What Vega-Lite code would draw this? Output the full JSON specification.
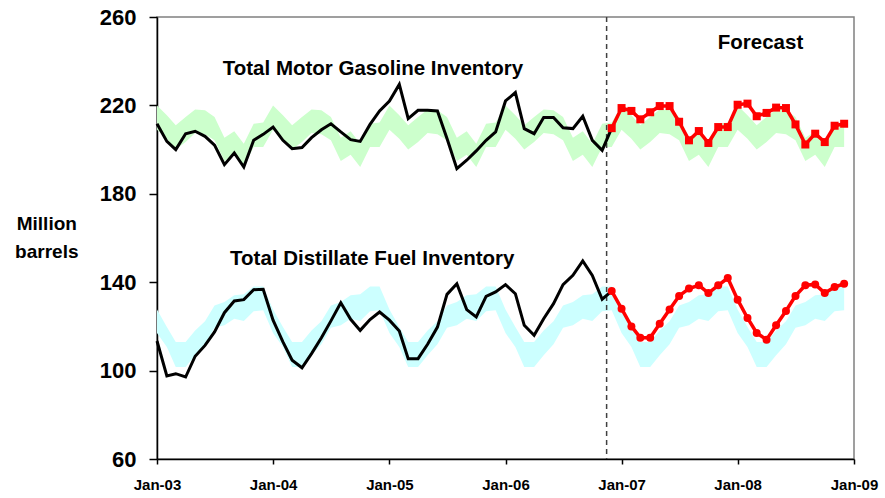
{
  "$schema": "https://vega.github.io/schema/vega-lite/v6.json",
  "width": 697,
  "height": 442,
  "autosize": {"type": "none"},
  "padding": {"left": 157, "top": 17, "right": 31, "bottom": 39},
  "background": "white",
  "config": {
    "font": "Liberation Sans",
    "view": {"stroke": "#808080", "strokeWidth": 1.5},
    "axis": {"grid": false, "domainColor": "black", "domainWidth": 1.5, "tickColor": "black", "tickWidth": 1.5, "labelColor": "black", "labelFont": "Liberation Sans", "labelFontWeight": "bold"}
  },
  "datasets": {
    "band": [
      {"d":"2003-01","glo":209.0,"ghi":220.0,"dlo":117.0,"dhi":127.6},{"d":"2003-02","glo":204.9,"ghi":215.5,"dlo":110.7,"dhi":119.7},{"d":"2003-03","glo":200.0,"ghi":211.0,"dlo":101.6,"dhi":112.9},{"d":"2003-04","glo":203.4,"ghi":214.8,"dlo":101.6,"dhi":112.9},{"d":"2003-05","glo":207.5,"ghi":218.2,"dlo":106.9,"dhi":118.2},{"d":"2003-06","glo":206.9,"ghi":217.8,"dlo":111.9,"dhi":122.3},{"d":"2003-07","glo":204.2,"ghi":214.8,"dlo":119.4,"dhi":129.5},{"d":"2003-08","glo":194.8,"ghi":205.4,"dlo":120.5,"dhi":131.0},{"d":"2003-09","glo":197.7,"ghi":208.3,"dlo":123.5,"dhi":134.1},{"d":"2003-10","glo":192.1,"ghi":202.7,"dlo":122.5,"dhi":134.5},{"d":"2003-11","glo":201.2,"ghi":211.7,"dlo":126.8,"dhi":138.1},{"d":"2003-12","glo":201.2,"ghi":212.3,"dlo":127.3,"dhi":138.1},
      {"d":"2004-01","glo":209.0,"ghi":220.0,"dlo":117.0,"dhi":127.6},{"d":"2004-02","glo":204.9,"ghi":215.5,"dlo":110.7,"dhi":119.7},{"d":"2004-03","glo":200.0,"ghi":211.0,"dlo":101.6,"dhi":112.9},{"d":"2004-04","glo":203.4,"ghi":214.8,"dlo":101.6,"dhi":112.9},{"d":"2004-05","glo":207.5,"ghi":218.2,"dlo":106.9,"dhi":118.2},{"d":"2004-06","glo":206.9,"ghi":217.8,"dlo":111.9,"dhi":122.3},{"d":"2004-07","glo":204.2,"ghi":214.8,"dlo":119.4,"dhi":129.5},{"d":"2004-08","glo":194.8,"ghi":205.4,"dlo":120.5,"dhi":131.0},{"d":"2004-09","glo":197.7,"ghi":208.3,"dlo":123.5,"dhi":134.1},{"d":"2004-10","glo":192.1,"ghi":202.7,"dlo":122.5,"dhi":134.5},{"d":"2004-11","glo":201.2,"ghi":211.7,"dlo":126.8,"dhi":138.1},{"d":"2004-12","glo":201.2,"ghi":212.3,"dlo":127.3,"dhi":138.1},
      {"d":"2005-01","glo":209.0,"ghi":220.0,"dlo":117.0,"dhi":127.6},{"d":"2005-02","glo":204.9,"ghi":215.5,"dlo":110.7,"dhi":119.7},{"d":"2005-03","glo":200.0,"ghi":211.0,"dlo":101.6,"dhi":112.9},{"d":"2005-04","glo":203.4,"ghi":214.8,"dlo":101.6,"dhi":112.9},{"d":"2005-05","glo":207.5,"ghi":218.2,"dlo":106.9,"dhi":118.2},{"d":"2005-06","glo":206.9,"ghi":217.8,"dlo":111.9,"dhi":122.3},{"d":"2005-07","glo":204.2,"ghi":214.8,"dlo":119.4,"dhi":129.5},{"d":"2005-08","glo":194.8,"ghi":205.4,"dlo":120.5,"dhi":131.0},{"d":"2005-09","glo":197.7,"ghi":208.3,"dlo":123.5,"dhi":134.1},{"d":"2005-10","glo":192.1,"ghi":202.7,"dlo":122.5,"dhi":134.5},{"d":"2005-11","glo":201.2,"ghi":211.7,"dlo":126.8,"dhi":138.1},{"d":"2005-12","glo":201.2,"ghi":212.3,"dlo":127.3,"dhi":138.1},
      {"d":"2006-01","glo":209.0,"ghi":220.0,"dlo":117.0,"dhi":127.6},{"d":"2006-02","glo":204.9,"ghi":215.5,"dlo":110.7,"dhi":119.7},{"d":"2006-03","glo":200.0,"ghi":211.0,"dlo":101.6,"dhi":112.9},{"d":"2006-04","glo":203.4,"ghi":214.8,"dlo":101.6,"dhi":112.9},{"d":"2006-05","glo":207.5,"ghi":218.2,"dlo":106.9,"dhi":118.2},{"d":"2006-06","glo":206.9,"ghi":217.8,"dlo":111.9,"dhi":122.3},{"d":"2006-07","glo":204.2,"ghi":214.8,"dlo":119.4,"dhi":129.5},{"d":"2006-08","glo":194.8,"ghi":205.4,"dlo":120.5,"dhi":131.0},{"d":"2006-09","glo":197.7,"ghi":208.3,"dlo":123.5,"dhi":134.1},{"d":"2006-10","glo":192.1,"ghi":202.7,"dlo":122.5,"dhi":134.5},{"d":"2006-11","glo":201.2,"ghi":211.7,"dlo":126.8,"dhi":138.1},{"d":"2006-12","glo":201.2,"ghi":212.3,"dlo":127.3,"dhi":138.1},
      {"d":"2007-01","glo":209.0,"ghi":220.0,"dlo":117.0,"dhi":127.6},{"d":"2007-02","glo":204.9,"ghi":215.5,"dlo":110.7,"dhi":119.7},{"d":"2007-03","glo":200.0,"ghi":211.0,"dlo":101.6,"dhi":112.9},{"d":"2007-04","glo":203.4,"ghi":214.8,"dlo":101.6,"dhi":112.9},{"d":"2007-05","glo":207.5,"ghi":218.2,"dlo":106.9,"dhi":118.2},{"d":"2007-06","glo":206.9,"ghi":217.8,"dlo":111.9,"dhi":122.3},{"d":"2007-07","glo":204.2,"ghi":214.8,"dlo":119.4,"dhi":129.5},{"d":"2007-08","glo":194.8,"ghi":205.4,"dlo":120.5,"dhi":131.0},{"d":"2007-09","glo":197.7,"ghi":208.3,"dlo":123.5,"dhi":134.1},{"d":"2007-10","glo":192.1,"ghi":202.7,"dlo":122.5,"dhi":134.5},{"d":"2007-11","glo":201.2,"ghi":211.7,"dlo":126.8,"dhi":138.1},{"d":"2007-12","glo":201.2,"ghi":212.3,"dlo":127.3,"dhi":138.1},
      {"d":"2008-01","glo":209.0,"ghi":220.0,"dlo":117.0,"dhi":127.6},{"d":"2008-02","glo":204.9,"ghi":215.5,"dlo":110.7,"dhi":119.7},{"d":"2008-03","glo":200.0,"ghi":211.0,"dlo":101.6,"dhi":112.9},{"d":"2008-04","glo":203.4,"ghi":214.8,"dlo":101.6,"dhi":112.9},{"d":"2008-05","glo":207.5,"ghi":218.2,"dlo":106.9,"dhi":118.2},{"d":"2008-06","glo":206.9,"ghi":217.8,"dlo":111.9,"dhi":122.3},{"d":"2008-07","glo":204.2,"ghi":214.8,"dlo":119.4,"dhi":129.5},{"d":"2008-08","glo":194.8,"ghi":205.4,"dlo":120.5,"dhi":131.0},{"d":"2008-09","glo":197.7,"ghi":208.3,"dlo":123.5,"dhi":134.1},{"d":"2008-10","glo":192.1,"ghi":202.7,"dlo":122.5,"dhi":134.5},{"d":"2008-11","glo":201.2,"ghi":211.7,"dlo":126.8,"dhi":138.1},{"d":"2008-12","glo":201.2,"ghi":212.3,"dlo":127.3,"dhi":138.1}
    ],
    "lines": [
      {"d":"2003-01","s":"gas","t":"hist","v":211.7},{"d":"2003-02","s":"gas","t":"hist","v":203.7},{"d":"2003-03","s":"gas","t":"hist","v":200.0},{"d":"2003-04","s":"gas","t":"hist","v":207.2},{"d":"2003-05","s":"gas","t":"hist","v":208.3},{"d":"2003-06","s":"gas","t":"hist","v":206.0},{"d":"2003-07","s":"gas","t":"hist","v":202.0},{"d":"2003-08","s":"gas","t":"hist","v":193.2},{"d":"2003-09","s":"gas","t":"hist","v":198.5},{"d":"2003-10","s":"gas","t":"hist","v":192.1},{"d":"2003-11","s":"gas","t":"hist","v":204.2},{"d":"2003-12","s":"gas","t":"hist","v":206.9},
      {"d":"2004-01","s":"gas","t":"hist","v":210.2},{"d":"2004-02","s":"gas","t":"hist","v":204.2},{"d":"2004-03","s":"gas","t":"hist","v":200.4},{"d":"2004-04","s":"gas","t":"hist","v":200.9},{"d":"2004-05","s":"gas","t":"hist","v":205.4},{"d":"2004-06","s":"gas","t":"hist","v":209.0},{"d":"2004-07","s":"gas","t":"hist","v":211.7},{"d":"2004-08","s":"gas","t":"hist","v":208.0},{"d":"2004-09","s":"gas","t":"hist","v":204.5},{"d":"2004-10","s":"gas","t":"hist","v":203.7},{"d":"2004-11","s":"gas","t":"hist","v":211.4},{"d":"2004-12","s":"gas","t":"hist","v":217.5},
      {"d":"2005-01","s":"gas","t":"hist","v":222.0},{"d":"2005-02","s":"gas","t":"hist","v":229.5},{"d":"2005-03","s":"gas","t":"hist","v":214.0},{"d":"2005-04","s":"gas","t":"hist","v":217.8},{"d":"2005-05","s":"gas","t":"hist","v":217.8},{"d":"2005-06","s":"gas","t":"hist","v":217.5},{"d":"2005-07","s":"gas","t":"hist","v":205.0},{"d":"2005-08","s":"gas","t":"hist","v":191.4},{"d":"2005-09","s":"gas","t":"hist","v":195.2},{"d":"2005-10","s":"gas","t":"hist","v":199.4},{"d":"2005-11","s":"gas","t":"hist","v":204.2},{"d":"2005-12","s":"gas","t":"hist","v":208.0},
      {"d":"2006-01","s":"gas","t":"hist","v":222.0},{"d":"2006-02","s":"gas","t":"hist","v":225.8},{"d":"2006-03","s":"gas","t":"hist","v":209.5},{"d":"2006-04","s":"gas","t":"hist","v":207.2},{"d":"2006-05","s":"gas","t":"hist","v":214.5},{"d":"2006-06","s":"gas","t":"hist","v":214.5},{"d":"2006-07","s":"gas","t":"hist","v":209.9},{"d":"2006-08","s":"gas","t":"hist","v":209.5},{"d":"2006-09","s":"gas","t":"hist","v":215.1},{"d":"2006-10","s":"gas","t":"hist","v":204.2},{"d":"2006-11","s":"gas","t":"hist","v":199.7},{"d":"2006-12","s":"gas","t":"hist","v":209.7},
      {"d":"2006-12","s":"gas","t":"fcst","v":209.7},{"d":"2007-01","s":"gas","t":"fcst","v":218.8},{"d":"2007-02","s":"gas","t":"fcst","v":217.5},{"d":"2007-03","s":"gas","t":"fcst","v":213.7},{"d":"2007-04","s":"gas","t":"fcst","v":216.9},{"d":"2007-05","s":"gas","t":"fcst","v":219.7},{"d":"2007-06","s":"gas","t":"fcst","v":219.7},{"d":"2007-07","s":"gas","t":"fcst","v":212.6},{"d":"2007-08","s":"gas","t":"fcst","v":204.2},{"d":"2007-09","s":"gas","t":"fcst","v":208.4},{"d":"2007-10","s":"gas","t":"fcst","v":203.0},{"d":"2007-11","s":"gas","t":"fcst","v":210.2},{"d":"2007-12","s":"gas","t":"fcst","v":210.2},
      {"d":"2008-01","s":"gas","t":"fcst","v":220.3},{"d":"2008-02","s":"gas","t":"fcst","v":220.8},{"d":"2008-03","s":"gas","t":"fcst","v":215.1},{"d":"2008-04","s":"gas","t":"fcst","v":216.6},{"d":"2008-05","s":"gas","t":"fcst","v":219.0},{"d":"2008-06","s":"gas","t":"fcst","v":218.8},{"d":"2008-07","s":"gas","t":"fcst","v":211.4},{"d":"2008-08","s":"gas","t":"fcst","v":202.3},{"d":"2008-09","s":"gas","t":"fcst","v":207.2},{"d":"2008-10","s":"gas","t":"fcst","v":203.4},{"d":"2008-11","s":"gas","t":"fcst","v":210.8},{"d":"2008-12","s":"gas","t":"fcst","v":211.7},
      {"d":"2003-01","s":"dist","t":"hist","v":113.4},{"d":"2003-02","s":"dist","t":"hist","v":97.6},{"d":"2003-03","s":"dist","t":"hist","v":98.6},{"d":"2003-04","s":"dist","t":"hist","v":97.1},{"d":"2003-05","s":"dist","t":"hist","v":106.5},{"d":"2003-06","s":"dist","t":"hist","v":111.4},{"d":"2003-07","s":"dist","t":"hist","v":117.5},{"d":"2003-08","s":"dist","t":"hist","v":126.2},{"d":"2003-09","s":"dist","t":"hist","v":131.5},{"d":"2003-10","s":"dist","t":"hist","v":132.1},{"d":"2003-11","s":"dist","t":"hist","v":136.6},{"d":"2003-12","s":"dist","t":"hist","v":136.8},
      {"d":"2004-01","s":"dist","t":"hist","v":122.8},{"d":"2004-02","s":"dist","t":"hist","v":113.0},{"d":"2004-03","s":"dist","t":"hist","v":104.7},{"d":"2004-04","s":"dist","t":"hist","v":101.3},{"d":"2004-05","s":"dist","t":"hist","v":107.7},{"d":"2004-06","s":"dist","t":"hist","v":114.9},{"d":"2004-07","s":"dist","t":"hist","v":122.5},{"d":"2004-08","s":"dist","t":"hist","v":130.7},{"d":"2004-09","s":"dist","t":"hist","v":123.2},{"d":"2004-10","s":"dist","t":"hist","v":118.2},{"d":"2004-11","s":"dist","t":"hist","v":123.1},{"d":"2004-12","s":"dist","t":"hist","v":126.5},
      {"d":"2005-01","s":"dist","t":"hist","v":122.8},{"d":"2005-02","s":"dist","t":"hist","v":117.9},{"d":"2005-03","s":"dist","t":"hist","v":105.4},{"d":"2005-04","s":"dist","t":"hist","v":105.4},{"d":"2005-05","s":"dist","t":"hist","v":111.9},{"d":"2005-06","s":"dist","t":"hist","v":119.7},{"d":"2005-07","s":"dist","t":"hist","v":134.5},{"d":"2005-08","s":"dist","t":"hist","v":139.3},{"d":"2005-09","s":"dist","t":"hist","v":127.6},{"d":"2005-10","s":"dist","t":"hist","v":124.3},{"d":"2005-11","s":"dist","t":"hist","v":133.6},{"d":"2005-12","s":"dist","t":"hist","v":135.6},
      {"d":"2006-01","s":"dist","t":"hist","v":138.9},{"d":"2006-02","s":"dist","t":"hist","v":134.8},{"d":"2006-03","s":"dist","t":"hist","v":120.5},{"d":"2006-04","s":"dist","t":"hist","v":116.0},{"d":"2006-05","s":"dist","t":"hist","v":123.5},{"d":"2006-06","s":"dist","t":"hist","v":130.3},{"d":"2006-07","s":"dist","t":"hist","v":138.9},{"d":"2006-08","s":"dist","t":"hist","v":143.1},{"d":"2006-09","s":"dist","t":"hist","v":149.6},{"d":"2006-10","s":"dist","t":"hist","v":143.1},{"d":"2006-11","s":"dist","t":"hist","v":132.3},{"d":"2006-12","s":"dist","t":"hist","v":136.0},
      {"d":"2006-12","s":"dist","t":"fcst","v":136.0},{"d":"2007-01","s":"dist","t":"fcst","v":128.0},{"d":"2007-02","s":"dist","t":"fcst","v":120.0},{"d":"2007-03","s":"dist","t":"fcst","v":114.9},{"d":"2007-04","s":"dist","t":"fcst","v":114.9},{"d":"2007-05","s":"dist","t":"fcst","v":121.2},{"d":"2007-06","s":"dist","t":"fcst","v":127.6},{"d":"2007-07","s":"dist","t":"fcst","v":133.8},{"d":"2007-08","s":"dist","t":"fcst","v":137.1},{"d":"2007-09","s":"dist","t":"fcst","v":138.6},{"d":"2007-10","s":"dist","t":"fcst","v":135.1},{"d":"2007-11","s":"dist","t":"fcst","v":138.6},{"d":"2007-12","s":"dist","t":"fcst","v":141.9},
      {"d":"2008-01","s":"dist","t":"fcst","v":132.1},{"d":"2008-02","s":"dist","t":"fcst","v":123.8},{"d":"2008-03","s":"dist","t":"fcst","v":117.0},{"d":"2008-04","s":"dist","t":"fcst","v":114.0},{"d":"2008-05","s":"dist","t":"fcst","v":120.5},{"d":"2008-06","s":"dist","t":"fcst","v":127.0},{"d":"2008-07","s":"dist","t":"fcst","v":133.8},{"d":"2008-08","s":"dist","t":"fcst","v":138.6},{"d":"2008-09","s":"dist","t":"fcst","v":139.0},{"d":"2008-10","s":"dist","t":"fcst","v":135.1},{"d":"2008-11","s":"dist","t":"fcst","v":137.8},{"d":"2008-12","s":"dist","t":"fcst","v":139.3}
    ],
    "notes": [
      {"d":"2004-11-10","v":236.3,"label":"Total Motor Gasoline Inventory"},
      {"d":"2004-11-08","v":150.6,"label":"Total Distillate Fuel Inventory"},
      {"d":"2008-03-13","v":248.1,"label":"Forecast"}
    ],
    "divider": [{"d":"2006-11-15"}]
  },
  "encoding": {
    "x": {
      "field": "d", "type": "temporal",
      "scale": {"type": "utc", "domain": [{"year": 2003, "month": 1, "date": 1, "utc": true}, {"year": 2009, "month": 1, "date": 1, "utc": true}]},
      "axis": {
        "title": null, "format": "%b-%y",
        "values": [{"year":2003,"month":1,"date":1,"utc":true},{"year":2004,"month":1,"date":1,"utc":true},{"year":2005,"month":1,"date":1,"utc":true},{"year":2006,"month":1,"date":1,"utc":true},{"year":2007,"month":1,"date":1,"utc":true},{"year":2008,"month":1,"date":1,"utc":true},{"year":2009,"month":1,"date":1,"utc":true}],
        "tickSize": 5, "labelPadding": 13, "labelFontSize": 15, "labelFlush": false, "labelOverlap": false
      }
    }
  },
  "layer": [
    {
      "data": {"name": "band"},
      "mark": {"type": "area", "color": "#CCFFCC", "opacity": 1},
      "encoding": {
        "y": {"field": "ghi", "type": "quantitative", "scale": {"domain": [60, 260], "nice": false, "zero": false},
          "axis": {"values": [60, 100, 140, 180, 220, 260], "tickSize": 8, "labelPadding": 13, "labelFontSize": 22,
            "title": ["Million", "barrels"], "titleAngle": 0, "titleAlign": "center", "titleBaseline": "top", "titleX": -110.7, "titleY": 197, "titleFontSize": 19, "titleFontWeight": "bold", "titleColor": "black", "titleLineHeight": 28, "titleFont": "Liberation Sans"}},
        "y2": {"field": "glo"}
      }
    },
    {
      "data": {"name": "band"},
      "mark": {"type": "area", "color": "#CCFFFF", "opacity": 1},
      "encoding": {
        "y": {"field": "dhi", "type": "quantitative"},
        "y2": {"field": "dlo"}
      }
    },
    {
      "data": {"name": "divider"},
      "mark": {"type": "rule", "color": "#404040", "strokeWidth": 1.5, "strokeDash": [5, 4]},
      "encoding": {}
    },
    {
      "data": {"name": "lines"},
      "transform": [{"filter": "datum.t === 'hist'"}],
      "mark": {"type": "line", "color": "black", "strokeWidth": 3},
      "encoding": {
        "y": {"field": "v", "type": "quantitative"},
        "detail": {"field": "s"}
      }
    },
    {
      "data": {"name": "lines"},
      "transform": [{"filter": "datum.t === 'fcst'"}],
      "mark": {"type": "line", "color": "#FF0000", "strokeWidth": 3.5},
      "encoding": {
        "y": {"field": "v", "type": "quantitative"},
        "detail": {"field": "s"}
      }
    },
    {
      "data": {"name": "lines"},
      "transform": [{"filter": "datum.t === 'fcst'"}],
      "mark": {"type": "point", "filled": true, "color": "#FF0000", "opacity": 1, "size": 64},
      "encoding": {
        "y": {"field": "v", "type": "quantitative"},
        "shape": {"field": "s", "type": "nominal", "scale": {"domain": ["gas", "dist"], "range": ["square", "circle"]}, "legend": null}
      }
    },
    {
      "data": {"name": "notes"},
      "mark": {"type": "text", "font": "Liberation Sans", "fontWeight": "bold", "fontSize": 20.5, "align": "center", "baseline": "middle", "color": "black"},
      "encoding": {
        "y": {"field": "v", "type": "quantitative"},
        "text": {"field": "label"}
      }
    }
  ]
}
